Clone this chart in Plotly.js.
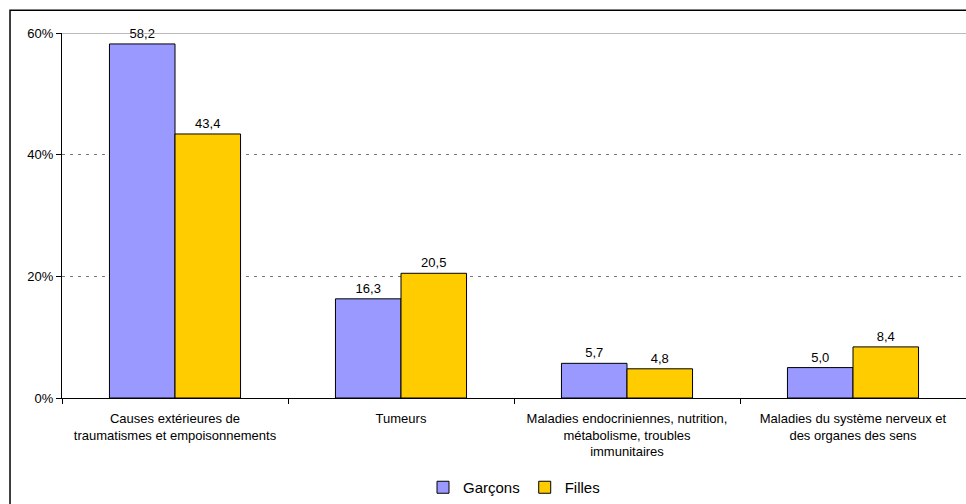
<!DOCTYPE html>
<html>
<head>
<meta charset="utf-8">
<script src="https://cdn.plot.ly/plotly-3.0.1.min.js"></script>
<style>body{margin:0;background:#fff}</style>
</head>
<body>
<div id="chart" style="width:966px;height:504px"></div>
<script>
const categories = [
  "Causes extérieures de<br>traumatismes et empoisonnements",
  "Tumeurs",
  "Maladies endocriniennes, nutrition,<br>métabolisme, troubles<br>immunitaires",
  "Maladies du système nerveux et<br>des organes des sens"
];
const garcons = [58.2, 16.3, 5.7, 5.0];
const filles = [43.4, 20.5, 4.8, 8.4];

const bar = (name, y, color) => ({
  type: "bar", name, x: categories, y,
  marker: { color, line: { color: "#000", width: 1 } },
  texttemplate: "%{y:.1f}", textposition: "outside", cliponaxis: false,
  textfont: { size: 13, color: "#000" }
});

Plotly.newPlot("chart", [
  bar("Garçons", garcons, "#9999ff"),
  bar("Filles", filles, "#ffcc00")
], {
  width: 966, height: 504,
  margin: { l: 62, r: 0, t: 33, b: 96 },
  font: { family: "Liberation Sans, Arial, sans-serif", size: 13, color: "#000" },
  separators: ",.",
  barmode: "group", bargap: 0.42, bargroupgap: 0,
  showlegend: true,
  legend: { orientation: "h", x: 0.5, xanchor: "center", y: -0.2, yanchor: "top",
    font: { size: 15 }, bgcolor: "rgba(0,0,0,0)", itemwidth: 30, tracegroupgap: 0 },
  xaxis: { showline: true, linecolor: "#000", ticks: "outside", tickson: "boundaries", ticklen: 5,
    tickcolor: "#000", showgrid: false, ticklabelstandoff: 8 },
  yaxis: { range: [0, 60], tickvals: [0, 20, 40, 60], ticktext: ["0%", "20%", "40%", "60%"],
    showline: true, linecolor: "#000", ticks: "outside", ticklen: 5, tickcolor: "#000",
    gridcolor: "#777", griddash: "3px,5px", zeroline: false },
  shapes: [
    { type: "line", xref: "paper", yref: "y", x0: 0, x1: 1, y0: 60, y1: 60, line: { color: "#777", width: 1 } },
    { type: "rect", xref: "paper", yref: "paper", x0: -0.0575, x1: 1.01, y0: -0.3, y1: 1.062, line: { color: "#000", width: 1.5 } }
  ]
}, { displayModeBar: false });
</script>
</body>
</html>
